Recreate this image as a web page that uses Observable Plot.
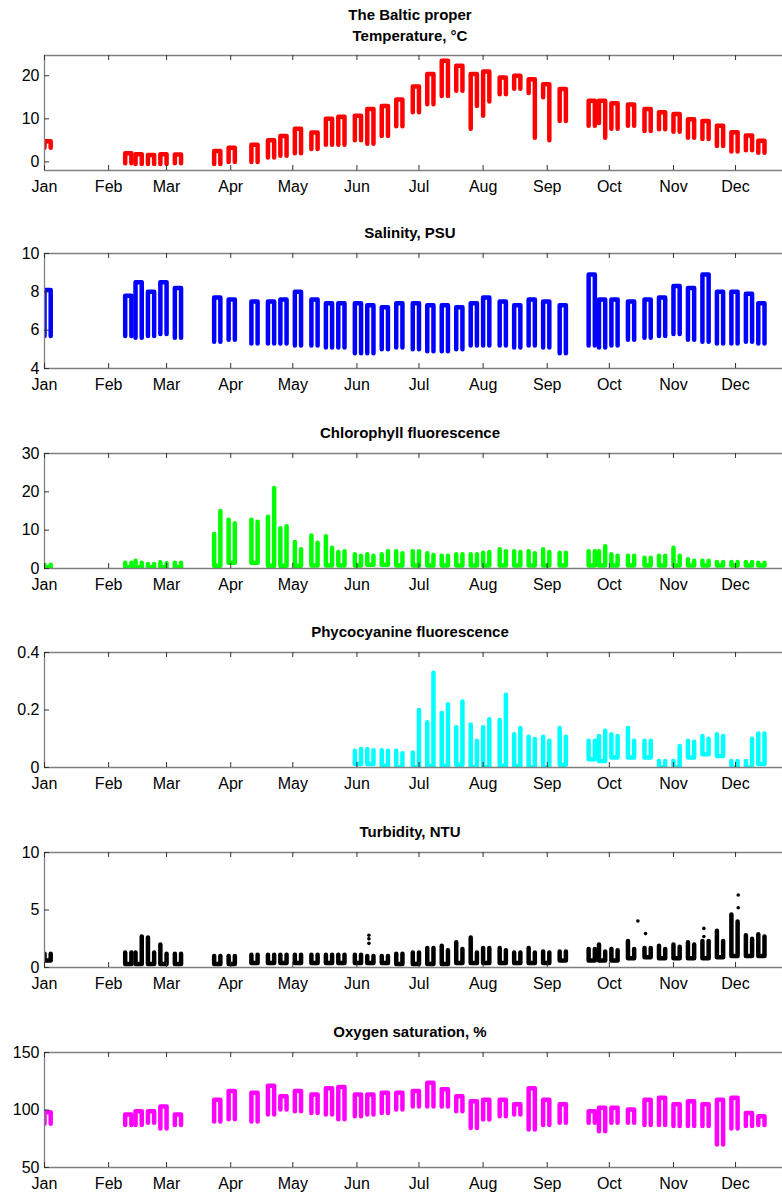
<!DOCTYPE html>
<html><head><meta charset="utf-8">
<script src="https://cdn.jsdelivr.net/npm/d3@7"></script>
<script src="https://cdn.jsdelivr.net/npm/@observablehq/plot@0.6"></script>
<style>
body{margin:0;background:#fff;}
#wrap{position:relative;width:782px;height:1192px;overflow:hidden;font-family:"Liberation Sans",Arial,Helvetica,sans-serif;}
.title{position:absolute;left:44px;width:732px;text-align:center;font-weight:bold;font-size:15px;line-height:20px;color:#000;}
.panel{position:absolute;left:0;}
</style></head><body><div id="wrap"></div>
<script>
// Day-of-year (2007) at which each ferry cycle starts
const cycleDay = [0, 39,44,50,56,63, 82,89,100,108,114,121,129,136,142,150,156,163,170,178,185,192,199,206,212,220,227,234,241,249, 263,268,274,282,290,297,304,311,318,325,332,339,345];
const monthNames = ["Jan","Feb","Mar","Apr","May","Jun","Jul","Aug","Sep","Oct","Nov","Dec"];

// Temperature, °C
const tempLo  = [3.3, -0.3,-0.5,-0.5,-0.5,-0.3, -0.5,0,0,1,1.4,2,3,4,4,5,4.2,6,8.3,11.5,13.4,15.3,16.5,7.7,10.7,15.7,17,16,15,9.5, 8.4,9,7.7,8.4,7.2,7.6,7,5.6,5.3,3.7,2.4,2.7,2.1];
const tempLo2 = [3.3, -0.3,-0.5,-0.5,-0.5,-0.3, -0.5,0,0,1,1.4,2,3,4,4,5,4.2,6,8.3,11.5,13.4,15.3,16.5,13,14,15.7,17,5.6,5,9.5, 8.4,5.6,7.7,8.4,7.2,7.6,7,5.6,5.3,3.7,2.4,2.7,2.1];
const tempHi  = [4.8, 2,1.8,1.6,1.8,1.7, 2.5,3.3,4,5,6,7.7,6.8,10,10.5,10.7,12.3,13,14.5,17.5,20.4,23.5,22.3,20.4,21,19.6,20,19.2,18,16.9, 14.2,14.2,13.6,13.3,12.3,11.5,11.1,9.9,9.5,8.4,6.9,6.1,4.9];

// Salinity, PSU
const salLo = [5.7, 5.7,5.6,5.7,5.8,5.6, 5.4,5.5,5.3,5.3,5.3,5.2,5.2,5.1,5.1,4.8,4.8,5,5.1,5,4.9,4.9,5,5.2,5.2,5.2,5.1,5.2,5.1,4.8, 5.2,5.1,5.2,5.5,5.6,5.7,5.8,5.5,5.4,5.3,5.3,5.4,5.3];
const salHi = [8.1, 7.8,8.5,8,8.5,8.2, 7.7,7.6,7.5,7.5,7.6,8,7.6,7.4,7.4,7.4,7.3,7.2,7.4,7.4,7.3,7.3,7.2,7.4,7.7,7.5,7.3,7.6,7.5,7.3, 8.9,7.6,7.6,7.5,7.6,7.7,8.3,8.2,8.9,8,8,7.9,7.4];

// Chlorophyll fluorescence
const chlLo  = [0.3, 0.3,0.3,0.3,0.3,0.3, 0.7,1.5,1.5,0.7,0.7,0.7,0.8,0.8,0.8,0.8,1,1,0.8,0.8,0.8,0.8,0.8,0.8,0.8,0.8,0.8,0.8,0.8,0.8, 0.8,0.8,0.8,0.8,0.8,0.8,0.8,0.8,0.8,0.8,0.8,0.8,0.8];
const chlHi  = [1, 1.5,2,1.2,1.6,1.5, 9,12.7,12.7,13.5,10.5,6.9,8.6,8.4,4.3,3.7,3.7,3.7,4.5,4.5,4,3.3,3.7,3.7,4.1,5,4.5,4.5,5,4.1, 4.5,4.5,3.7,3.3,2.8,3.3,5.4,2.4,2,1.7,1.7,1.7,1.5];
const chlHi2 = [1, 1.5,1.5,1.2,1.4,1.5, 15,11.8,12.2,21,11,5,6.7,5.4,4.5,3.3,3.3,4.5,4,4.5,3.5,3.3,3.7,3.7,4.3,4.5,4.3,4,4.3,4.1, 4.5,5.8,3.3,3.3,2.8,3.3,3.3,2,2,1.7,1.7,1.7,1.5];

// Phycocyanine fluorescence (no data before June)
const phyLo  = [null, null,null,null,null,null, null,null,null,null,null,null,null,null,null,0.012,0.012,0.006,0,0,0.005,0.005,0.01,0,0,0.005,0.005,0,0,0.01, 0.029,0.023,0.035,0.035,0.035,0,0,0.035,0.046,0.04,0,0,0.012];
const phyHi  = [null, null,null,null,null,null, null,null,null,null,null,null,null,null,null,0.058,0.064,0.06,0.058,0.052,0.157,0.19,0.14,0.15,0.14,0.165,0.116,0.107,0.107,0.137, 0.093,0.11,0.116,0.137,0.093,0.023,0.023,0.093,0.11,0.116,0.023,0.023,0.118];
const phyHi2 = [null, null,null,null,null,null, null,null,null,null,null,null,null,null,null,0.064,0.06,0.058,0.05,0.2,0.33,0.22,0.23,0.093,0.168,0.253,0.137,0.099,0.093,0.107, 0.093,0.128,0.11,0.093,0.093,0.023,0.075,0.09,0.1,0.11,0.023,0.1,0.118];

// Turbidity, NTU
const turLo  = [0.6, 0.3,0.3,0.3,0.3,0.3, 0.3,0.3,0.4,0.4,0.4,0.4,0.4,0.4,0.4,0.4,0.4,0.4,0.3,0.3,0.3,0.3,0.4,0.4,0.4,0.4,0.4,0.4,0.4,0.6, 0.6,0.6,0.6,0.8,0.9,0.8,0.8,0.8,0.8,0.9,1,1,1];
const turHi  = [1.2, 1.3,1.3,2.6,2,1.2, 1,1,1.1,1.1,1.1,1.1,1.1,1.1,1.1,1.1,1,1,1.2,1.3,1.7,1.9,2.2,2.6,1.7,1.7,1.3,1.7,1.4,1.4, 1.6,2,1.6,2.3,1.7,1.9,2,2.2,2.3,3.2,4.6,2.8,2.9];
const turHi2 = [1.2, 1.3,2.7,1.3,1.2,1.2, 1,1,1.1,1.1,1.1,1.1,1.1,1.1,1.1,1.1,1,1,1.2,1.3,1.7,1.5,1.6,1.3,1.7,1.5,1.3,1.3,1.3,1.4, 1.6,1.4,1.5,1.6,1.7,1.6,1.8,2,2.3,2.3,4,2.5,2.7];
const turSpikeDay = [156.8,156.8,156.8, 286.8, 290.5, 318.7,318.7, 335.3,335.3];
const turSpikeVal = [2.8,2.5,2.1, 4.05, 2.95, 3.4,2.7, 6.3,5.2];

// Oxygen saturation, %
const oxyLo = [88, 87,87,89,84,87, 90,92,90,96,100.5,99,97.5,96,92,94.6,96,97.5,100.5,103,103,103,99,84.4,91.7,94.6,96,83,87,89, 89,81.5,89,89,87,87,86,86,86,70,84,86,87];
const oxyHi = [98, 96,99,99,103,96, 109,116.5,115,121,112,116.5,113.5,119,120,113.5,113.5,115,115,116.5,123.7,118,112,107.7,109,109,105,119,109,105, 99,102,102,100.5,109,110.6,105,107.7,105,109,110.6,97.5,94.6];

const t0 = Date.UTC(2007, 0, 1);
const day = d => new Date(t0 + d * 864e5);
const xDomain = [day(0), day(356.7)];
const months = d3.utcMonths(day(0), day(340));
const legGap = 3;

const panels = [
  {title:["The Baltic proper","Temperature, °C"], lo:tempLo, lo2:tempLo2, hi:tempHi, color:"#ff0000", domain:[-2,24.7], ticks:[0,10,20], shape:"n", top:55},
  {title:["Salinity, PSU"], lo:salLo, hi:salHi, color:"#0000ff", domain:[4,10], ticks:[4,6,8,10], shape:"n", top:253},
  {title:["Chlorophyll fluorescence"], lo:chlLo, hi:chlHi, hi2:chlHi2, color:"#00ff00", domain:[0,30], ticks:[0,10,20,30], shape:"u", top:453},
  {title:["Phycocyanine fluorescence"], lo:phyLo, hi:phyHi, hi2:phyHi2, color:"#00ffff", domain:[0,0.4], ticks:[0,0.2,0.4], shape:"u", top:652},
  {title:["Turbidity, NTU"], lo:turLo, hi:turHi, hi2:turHi2, color:"#000000", domain:[0,10], ticks:[0,5,10], shape:"u", top:852, spikes:true},
  {title:["Oxygen saturation, %"], lo:oxyLo, hi:oxyHi, color:"#ff00ff", domain:[50,150], ticks:[50,100,150], shape:"n", top:1052}
];

function buildPoints(p) {
  const pts = [];
  cycleDay.forEach((d, i) => {
    const lo = p.lo[i];
    if (lo == null) return;
    const lo2 = p.lo2 ? p.lo2[i] : lo;
    const hi = p.hi[i];
    const hi2 = p.hi2 ? p.hi2[i] : hi;
    const a = day(d), b = day(d + legGap);
    const seq = p.shape === "n"
      ? [[a, lo], [a, hi], [b, hi2], [b, lo2]]
      : [[a, hi], [a, lo], [b, lo2], [b, hi2]];
    seq.forEach(([x, v]) => pts.push({date: x, v, c: i}));
  });
  return pts;
}

const wrap = document.getElementById("wrap");
const frameH = 115, mT = 2, mB = 30, W = 782, mL = 44;

panels.forEach(p => {
  const t = document.createElement("div");
  t.className = "title";
  const n = p.title.length;
  const lh = n > 1 ? 21 : 20;
  t.style.lineHeight = lh + "px";
  // last title line centred 20px above the frame
  t.style.top = (p.top - 20 - lh / 2 - (n - 1) * lh) + "px";
  t.innerHTML = p.title.join("<br>");
  wrap.appendChild(t);

  const marks = [
    Plot.line(buildPoints(p), {x: "date", y: "v", z: "c", stroke: p.color, strokeWidth: 4.5,
      strokeLinejoin: "round", strokeLinecap: "round", clip: true}),
    Plot.ruleY([p.domain[0], p.domain[1]], {stroke: "#808080", strokeWidth: 1.3}),
    Plot.ruleX([xDomain[0]], {stroke: "#808080", strokeWidth: 1.3}),
    Plot.ruleX(months, {stroke: "#333", insetTop: frameH - 5}),
    Plot.ruleX(months, {stroke: "#333", insetBottom: frameH - 5}),
    Plot.ruleY(p.ticks, {stroke: "#333", insetRight: W - mL - 5}),
    Plot.axisX({ticks: months, tickFormat: d => monthNames[d.getUTCMonth()], tickSize: 0, tickPadding: 10, label: null, fontSize: 16}),
    Plot.axisY({ticks: p.ticks, tickFormat: d => String(d), tickSize: 0, tickPadding: 5, label: null, fontSize: 16})
  ];
  if (p.spikes) {
    const sp = turSpikeDay.map((d, i) => ({date: day(d), v: turSpikeVal[i]}));
    marks.push(Plot.dot(sp, {x: "date", y: "v", r: 1.8, fill: p.color}));
  }

  const svg = Plot.plot({
    width: W, height: frameH + mT + mB,
    marginLeft: mL, marginRight: 0, marginTop: mT, marginBottom: mB,
    x: {type: "utc", domain: xDomain},
    y: {domain: p.domain},
    style: {fontFamily: '"Liberation Sans", Arial, Helvetica, sans-serif', fontSize: "16px", color: "#000", background: "transparent", overflow: "visible"},
    marks
  });
  const holder = document.createElement("div");
  holder.className = "panel";
  holder.style.top = (p.top - mT) + "px";
  holder.appendChild(svg);
  wrap.appendChild(holder);
});
</script></body></html>
